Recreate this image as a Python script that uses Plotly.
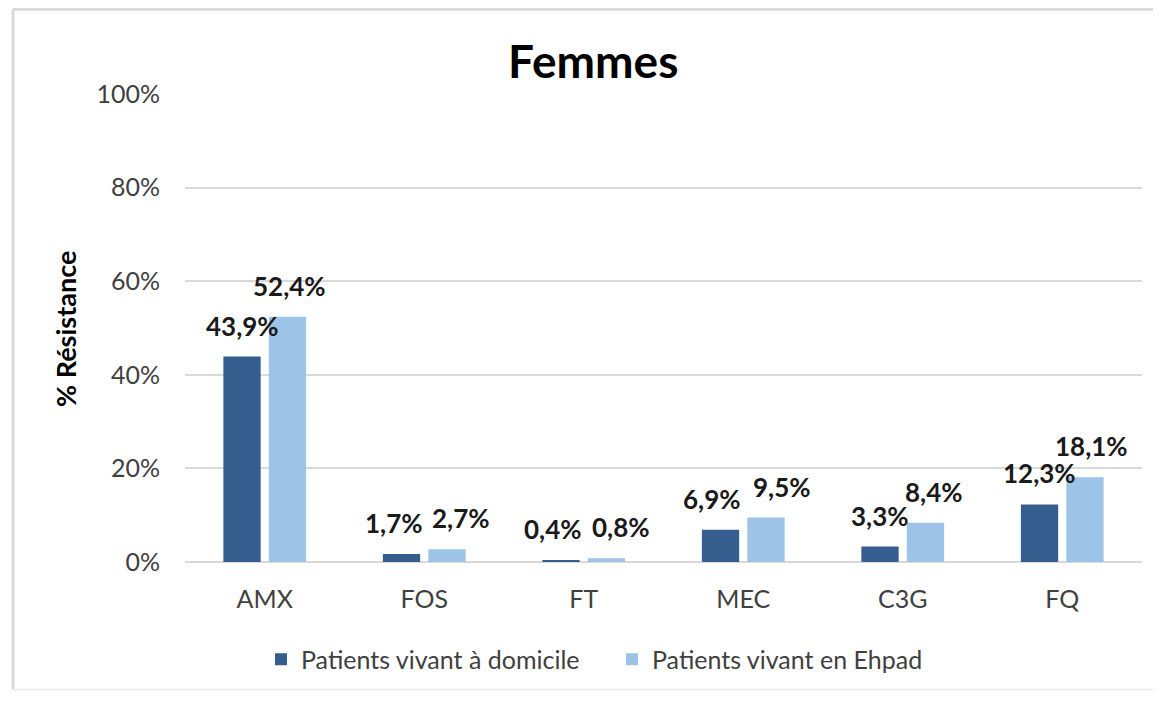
import plotly.graph_objects as go

categories = ["AMX", "FOS", "FT", "MEC", "C3G", "FQ"]
domicile = [43.9, 1.7, 0.4, 6.9, 3.3, 12.3]
ehpad = [52.4, 2.7, 0.8, 9.5, 8.4, 18.1]
series_names = ["Patients vivant à domicile", "Patients vivant en Ehpad"]
tick_vals = [0, 20, 40, 60, 80, 100]
tick_text = ["0%", "20%", "40%", "60%", "80%", "100%"]

# label nudges (px) so that neighbouring labels do not collide, as in the original
dom_dx = [0, -8, -8, -9, 0, 0]
ehp_dx = [2, 14, 15, 16, 9, 7]

FONT = "Lato, Carlito, 'Open Sans', sans-serif"
COLORS = ["#355D8D", "#9DC3E6"]

def fmt(v):
    return f"{v:.1f}".replace(".", ",") + "%"

fig = go.Figure()
for name, vals, col in [(series_names[0], domicile, COLORS[0]),
                        (series_names[1], ehpad, COLORS[1])]:
    fig.add_trace(go.Bar(
        x=categories, y=vals, name=name,
        marker=dict(color=col, line=dict(width=0)),
    ))

OFF = 8  # page body margin
W, H = 1161 - 2 * OFF, 701 - 2 * OFF
L, T = 185 - OFF, 94 - OFF
pw, ph = 957, 470
R, B = W - L - pw, H - T - ph

def px(x):
    return (x - OFF - L) / pw

def py(y):
    return (T + ph - (y - OFF)) / ph

bargap, bargroupgap = 0.43, 0.18
cat_w = pw / len(categories)
half = cat_w * (1 - bargap) / 4  # distance from category centre to bar centre

annotations = []
for vals, sign, dxs in [(domicile, -1, dom_dx), (ehpad, 1, ehp_dx)]:
    for c, v, dx in zip(categories, vals, dxs):
        annotations.append(dict(
            x=c, y=v, xref="x", yref="y", text=f"<b>{fmt(v)}</b>",
            showarrow=False, xanchor="center", yanchor="bottom",
            xshift=sign * half + dx, yshift=13,
            font=dict(family=FONT, size=26, color="#1a1a1a")))

annotations += [
    dict(text="<b>Femmes</b>", x=px(593), y=py(60), xref="paper", yref="paper",
         xanchor="center", yanchor="middle", showarrow=False,
         font=dict(family=FONT, size=46, color="#000000")),
    dict(text="<b>% Résistance</b>", x=px(66), y=py(330), xref="paper", yref="paper",
         xanchor="center", yanchor="middle", showarrow=False, textangle=-90,
         font=dict(family=FONT, size=27, color="#000000")),
]

frame = "#D9D9D9"
shapes = [
    dict(type="line", xref="paper", yref="paper", x0=px(13), x1=px(1170), y0=py(9), y1=py(9),
         line=dict(color=frame, width=3), layer="below"),
    dict(type="line", xref="paper", yref="paper", x0=px(13), x1=px(13), y0=py(9), y1=py(692),
         line=dict(color=frame, width=3), layer="below"),
    dict(type="line", xref="paper", yref="paper", x0=px(13), x1=px(1170), y0=py(692), y1=py(692),
         line=dict(color="#EDEDED", width=2), layer="below"),
]

fig.update_layout(
    width=W, height=H,
    margin=dict(l=L, r=R, t=T, b=B, pad=0),
    paper_bgcolor="white", plot_bgcolor="white",
    barmode="group", bargap=bargap, bargroupgap=bargroupgap,
    font=dict(family=FONT, color="#404040"),
    showlegend=True,
    legend=dict(orientation="h", x=px(612), xanchor="center", y=py(662), yanchor="middle",
                font=dict(family=FONT, size=25, color="#404040"),
                itemwidth=30, traceorder="normal", entrywidth=306),
    xaxis=dict(showgrid=False, showline=False, ticks="",
               tickfont=dict(family=FONT, size=25, color="#404040"),
               ticklabelstandoff=20),
    yaxis=dict(range=[0, 100], tickvals=tick_vals, ticktext=tick_text,
               showgrid=True, gridcolor="#D9D9D9", gridwidth=2,
               zeroline=True, zerolinecolor="#D9D9D9", zerolinewidth=2,
               showline=False, ticks="",
               tickfont=dict(family=FONT, size=25, color="#404040"),
               ticklabelstandoff=24),
    annotations=annotations,
    shapes=shapes,
)

fig.write_html("out.html")
